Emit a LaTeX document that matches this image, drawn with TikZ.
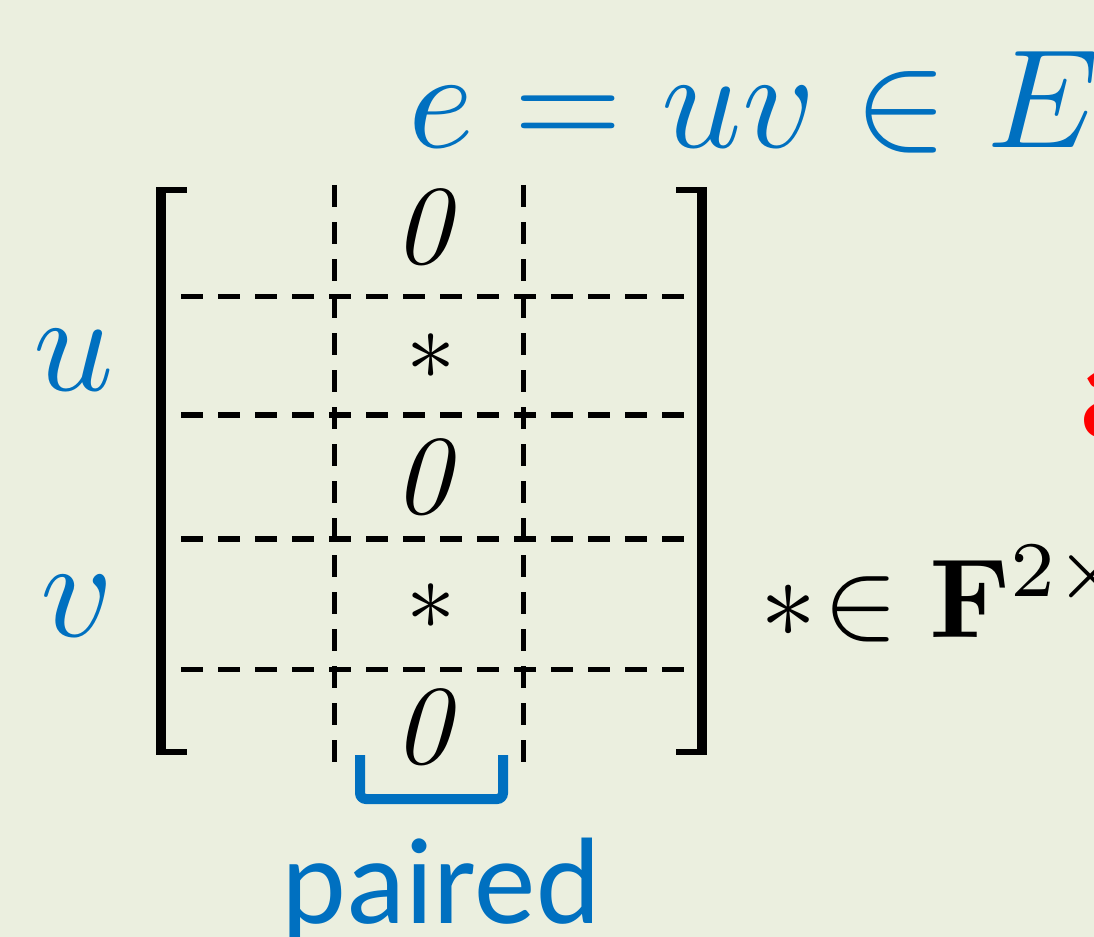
\documentclass[tikz,border=0pt]{standalone}
\usepackage{graphicx}
\usepackage[no-math]{fontspec}
\newfontfamily\calibri{Carlito}
\definecolor{bgcol}{RGB}{235,239,223}
\definecolor{oblue}{HTML}{0070C0}
\definecolor{ored}{HTML}{FF0000}
\newcommand{\txbig}[1]{\scalebox{4}{#1}}
\newcommand{\txmid}[1]{\scalebox{3.2}{#1}}
\newcommand{\txstar}[1]{\scalebox{2.8}{#1}}
\tikzset{
  entry/.style={inner sep=0pt, anchor=center},
  dl/.style={line width=0.05cm, dash pattern=on 0.22cm off 0.15cm},
  brk/.style={fill=black},
  pairbrace/.style={draw=oblue, line width=0.1cm, rounded corners=0.06cm, line cap=butt},
  lbl/.style={inner sep=0pt, anchor=base west},
}
\begin{document}
\begin{tikzpicture}[x=0.01cm, y=-0.01cm]
\useasboundingbox (0,0) rectangle (1094,937);
\clip (0,0) rectangle (1094,937);
\fill[bgcol] (0,0) rectangle (1094,937);

% title
\node[lbl, text=oblue] (title) at (408,148) {\txbig{$e = uv \in E$}};

% row labels
\node[lbl, text=oblue] (lu) at (33,390) {\txbig{$u$}};
\node[lbl, text=oblue] (lv) at (40,636) {\txbig{$v$}};

% brackets
\fill[brk] (156,187) rectangle (166,755);
\fill[brk] (156,187) rectangle (187,193);
\fill[brk] (156,749) rectangle (187,755);
\fill[brk] (697,187) rectangle (707,755);
\fill[brk] (676,187) rectangle (707,193);
\fill[brk] (676,749) rectangle (707,755);

% dashed grid
\coordinate (v1t) at (334,185); \coordinate (v1b) at (334,764);
\coordinate (v2t) at (523,185); \coordinate (v2b) at (523,764);
\draw[dl] (v1t) -- (v1b);
\draw[dl] (v2t) -- (v2b);
\foreach \yy/\nm in {297/h1,415/h2,539/h3,669/h4}{
  \coordinate (\nm l) at (181,\yy);
  \coordinate (\nm r) at (688,\yy);
  \draw[dl] (\nm l) -- (\nm r);
}

% entries
\node[entry] (z1) at (430,227) {\txmid{$\mathit{0}$}};
\node[entry] (s1) at (431,357) {\txstar{$*$}};
\node[entry] (z2) at (430,477) {\txmid{$\mathit{0}$}};
\node[entry] (s2) at (431,607) {\txstar{$*$}};
\node[entry] (z3) at (430,727) {\txmid{$\mathit{0}$}};

% paired brace
\coordinate (pb1) at (360,755);
\coordinate (pb2) at (360,799);
\coordinate (pb3) at (503,799);
\coordinate (pb4) at (503,755);
\draw[pairbrace] (pb1) -- (pb2) -- (pb3) -- (pb4);
\node[lbl, font=\calibri\fontsize{35}{42}\selectfont, text=oblue] (paired) at (281,923) {paired};

% right text
\node[lbl] (field) at (760,637) {\txmid{${*}\mkern1mu{\in}\;\mathbf{F}^{2\times}$}};

% red cut-off text
\node[lbl, font=\calibri\bfseries\fontsize{40}{48}\selectfont, text=ored] (reda) at (1079,438) {a};
\end{tikzpicture}
\end{document}
